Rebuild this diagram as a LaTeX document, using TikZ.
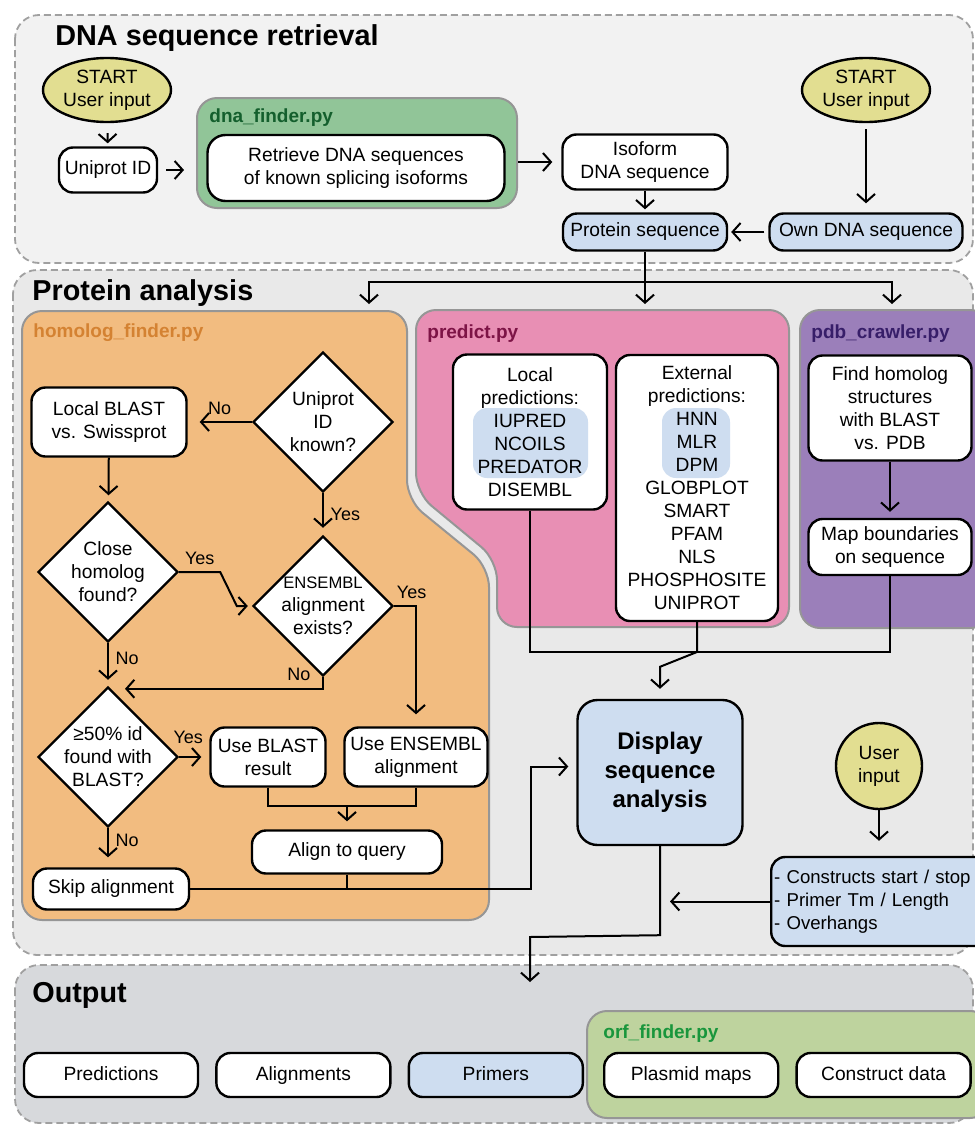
\documentclass[tikz,border=0pt]{standalone}
\usepackage{fontspec}
\setmainfont{Liberation Sans}
\usetikzlibrary{positioning,arrows.meta,calc,shapes.geometric}
\definecolor{SectionTop}{RGB}{242,242,242}
\definecolor{SectionMid}{RGB}{233,233,233}
\definecolor{SectionLow}{RGB}{215,217,220}
\definecolor{DashGray}{RGB}{160,160,160}
\definecolor{ProgGray}{RGB}{150,150,150}
\definecolor{UserYellow}{RGB}{226,222,145}
\definecolor{SeqBlue}{RGB}{206,221,240}
\definecolor{FinderGreen}{RGB}{145,197,152}
\definecolor{FinderText}{RGB}{20,95,45}
\definecolor{HomologOrange}{RGB}{242,188,128}
\definecolor{HomologText}{RGB}{212,130,50}
\definecolor{PredictPink}{RGB}{232,143,180}
\definecolor{PredictText}{RGB}{125,20,70}
\definecolor{CrawlerPurple}{RGB}{155,127,186}
\definecolor{CrawlerText}{RGB}{55,30,105}
\definecolor{OrfGreen}{RGB}{190,211,158}
\definecolor{OrfText}{RGB}{25,150,60}

\begin{document}
\begin{tikzpicture}[x=0.5pt, y=-0.5pt, node distance=8pt,
  every node/.style={font=\fontsize{9.6}{11.5}\selectfont, align=center},
  box/.style={draw, line width=1.2pt, rounded corners=7pt, fill=white, inner sep=1pt},
  outbox/.style={box, minimum width=87pt, minimum height=22pt, text height=7pt, text depth=2pt},
  decision/.style={draw, line width=1.2pt, diamond, fill=white, minimum width=70pt, minimum height=70pt, inner sep=-4pt},
  startnode/.style={draw, line width=1.2pt, ellipse, fill=UserYellow, minimum width=64pt, minimum height=32pt, inner sep=0pt},
  section/.style={draw=DashGray, line width=0.9pt, dash pattern=on 3.5pt off 2pt, rounded corners=12pt},
  program/.style={draw=ProgGray, line width=1pt, rounded corners=10pt},
  sectitle/.style={anchor=base west, inner xsep=0pt, font=\fontsize{14.4}{16}\selectfont\bfseries},
  progname/.style={anchor=base west, inner xsep=0pt, font=\fontsize{9.5}{11}\selectfont\bfseries},
  answer/.style={font=\fontsize{9}{10}\selectfont},
  arr/.style={-{Straight Barb[length=4pt,width=9pt]}, line width=1pt, shorten >=1.5pt},
  link/.style={line width=1pt}]
  \useasboundingbox (0,0) rectangle (975,1125);

  \draw[section, fill=SectionTop] (15,15) rectangle (973,263);
  \node[sectitle] at (55,45) {DNA sequence retrieval};
  \node[startnode] (startl) at (107,90) {START\\User input};
  \node[box, minimum width=49pt, minimum height=22.5pt] (uniprot) at (108,170) {Uniprot ID};
  \node[program, fill=FinderGreen, minimum width=160pt, minimum height=55pt] (dnafinder) at (357,153) {};
  \node[progname, text=FinderText] at (209,122) {dna\_finder.py};
  \node[box, rounded corners=9pt, minimum width=148.5pt, minimum height=33pt] (retrieve) at (356,168)
    {Retrieve DNA sequences\\of known splicing isoforms};
  \node[box, minimum width=82.5pt, minimum height=27.5pt] (isoform) at (645,162) {Isoform\\DNA sequence};
  \node[box, fill=SeqBlue, minimum width=82pt, minimum height=18.5pt] (protseq) at (645,232) {Protein sequence};
  \node[box, fill=SeqBlue, minimum width=96.5pt, minimum height=18.5pt] (owndna) at (866,232) {Own DNA sequence};
  \node[startnode] (startr) at (866,90) {START\\User input};
  \draw[arr, shorten <=5pt] (startl) -- (uniprot);
  \draw[arr, shorten <=4pt, shorten >=6pt] (uniprot.east) -- (uniprot.east -| dnafinder.west);
  \draw[arr, shorten >=4.5pt] (dnafinder.east |- isoform) -- (isoform);
  \draw[arr] (isoform) -- (protseq);
  \draw[arr, shorten <=2pt] (owndna) -- (protseq);
  \draw[arr, shorten <=3pt, shorten >=4.5pt] (startr) -- (owndna);

  \draw[section, fill=SectionMid] (13,270) rectangle (973,955);
  \node[sectitle] at (32,300) {Protein analysis};
  \draw[program, fill=HomologOrange] (22,311) -- (407,311) -- (407,500) -- (489,567) -- (489,920) -- (22,920) -- cycle;
  \draw[program, fill=PredictPink] (416,310) -- (789,310) -- (789,627) -- (497,627) -- (497,560) -- (416,493) -- cycle;
  \draw[program, fill=CrawlerPurple] (800,310) rectangle (990,628);
  \node[progname, text=HomologText] at (33,337) {homolog\_finder.py};
  \node[progname, text=PredictText] at (427,338) {predict.py};
  \node[progname, text=CrawlerText] at (811,338) {pdb\_crawler.py};
  \coordinate (split) at (645,282);
  \coordinate (hfin) at (369,307);
  \coordinate (prin) at (645,307);
  \coordinate (pcin) at (892,307);
  \draw[arr] (protseq) -- (split) -| (hfin);
  \draw[arr] (split) -- (prin);
  \draw[arr] (split) -| (pcin);

  \node[decision] (uniq) at (323,422) {Uniprot\\ID\\known?};
  \node[box, minimum width=77.5pt, minimum height=34.5pt] (blastsp) at (109,422) {Local BLAST\\vs. Swissprot};
  \node[decision] (close) at (108,572) {Close\\homolog\\found?};
  \node[decision] (ensembl) at (323,606) {{\fontsize{8.3}{11.5}\selectfont ENSEMBL}\\alignment\\exists?};
  \node[decision] (pct) at (108,757) {≥50\% id\\found with\\BLAST?};
  \node[box, minimum width=57.5pt, minimum height=29.5pt] (useblast) at (268,757) {Use BLAST\\result};
  \node[box, minimum width=71.5pt, minimum height=29.5pt] (useens) at (416,757) {Use ENSEMBL\\alignment};
  \node[box, minimum width=95pt, minimum height=21.5pt] (align) at (347,852) {Align to query};
  \node[box, minimum width=78pt, minimum height=20.5pt] (skip) at (111,889) {Skip alignment};
  \coordinate (merge) at (347,805.5);
  \draw[arr, shorten >=6pt] (uniq) -- node[answer, above] {No} (blastsp);
  \draw[arr, shorten >=3pt] (blastsp) -- (close);
  \draw[arr, shorten >=3.5pt] (uniq) -- node[answer, right] {Yes} (ensembl);
  \draw[arr, shorten >=2pt] (close.east) -- node[answer, above] {Yes} ++(41,0) -- ($(ensembl.west)+(-15,0)$) -- (ensembl.west);
  \draw[arr, shorten >=3pt] (close) -- node[answer, right, pos=0.35] {No} (pct);
  \draw[arr] (ensembl.south) |- node[answer, above, pos=0.56] {No} ($(pct.north)+(14,3)$);
  \draw[arr, shorten >=6pt] (ensembl.east) -| node[answer, above, pos=0.4] {Yes} (useens.north);
  \draw[arr, shorten >=4pt] (pct) -- node[answer, above, xshift=-3pt, yshift=3pt] {Yes} (useblast);
  \draw[arr, shorten >=5pt] (pct.south) -- node[answer, right, pos=0.3] {No} (pct.south |- skip.north);
  \draw[link] (useblast.south) |- (merge) -| (useens.south);
  \draw[arr, shorten >=4pt] (merge) -- (align);
  \draw[link] (align) -- (align.south |- skip.east);

  \node[box, minimum width=77pt, minimum height=77.5pt,
    path picture={\fill[SeqBlue, rounded corners=7pt] ($(path picture bounding box.center)+(-57,-24)$) rectangle ($(path picture bounding box.center)+(58,46)$);}]
    (localpred) at (530,432) {Local\\predictions:\\IUPRED\\NCOILS\\PREDATOR\\DISEMBL};
  \node[box, minimum width=81pt, minimum height=133pt,
    path picture={\fill[SeqBlue, rounded corners=7pt] ($(path picture bounding box.center)+(-35,-80)$) rectangle ($(path picture bounding box.center)+(33,-10)$);}]
    (extpred) at (697,488) {External\\predictions:\\HNN\\MLR\\DPM\\GLOBPLOT\\SMART\\PFAM\\NLS\\PHOSPHOSITE\\UNIPROT};
  \node[box, minimum width=81.5pt, minimum height=52.5pt] (findhom) at (890,408) {Find homolog\\structures\\with BLAST\\vs. PDB};
  \node[box, minimum width=81.5pt, minimum height=28pt] (mapbound) at (890,547) {Map boundaries\\on sequence};
  \draw[arr, shorten >=3pt] (findhom) -- (mapbound);

  \node[box, fill=SeqBlue, rounded corners=10pt, minimum width=82.5pt, minimum height=72.5pt,
    font=\fontsize{12}{14.5}\selectfont\bfseries] (disp) at (660,772.5) {Display\\sequence\\analysis};
  \node[draw, line width=1.2pt, circle, fill=UserYellow, minimum size=43pt, inner sep=0pt] (userin) at (879,766) {User\\input};
  \node[box, fill=SeqBlue, anchor=west, text width=106pt, align=left, minimum height=44.5pt, inner xsep=1.5pt,
    font=\fontsize{9.3}{11.5}\selectfont] (constr) at (770,901.5)
    {- Constructs start / stop\\- Primer Tm / Length\\- Overhangs};
  \coordinate (predjoin) at (697,652);
  \draw[link] (localpred.south) |- (predjoin) -| (mapbound.south);
  \draw[arr, shorten >=5pt] (extpred.south) -- (predjoin) -- ($(disp.north)+(0,-32)$) -- (disp.north);
  \draw[arr, shorten >=4pt] (skip.east) -- (531,889) |- ([yshift=3pt]disp.west);
  \draw[arr, shorten >=7.5pt] (userin) -- (userin |- constr.north);
  \draw[arr, shorten >=5pt] (constr) -- (constr -| disp.south);

  \draw[section, fill=SectionLow] (15,965) rectangle (973,1123);
  \node[sectitle] at (32,1002) {Output};
  \draw[program, fill=OrfGreen] (587,1011) rectangle (990,1118);
  \node[progname, text=OrfText] at (603,1038) {orf\_finder.py};
  \node[outbox] (predout) at (111,1075) {Predictions};
  \node[outbox, right=of predout] (alignout) {Alignments};
  \node[outbox, fill=SeqBlue, right=of alignout] (primers) {Primers};
  \node[outbox, right=9.5pt of primers] (plasmid) {Plasmid maps};
  \node[outbox, right=of plasmid] (constrdata) {Construct data};
  \coordinate (outin) at (530,985);
  \draw[arr] (disp.south) -- ++(0,89) -- (530,937) -- (outin);
\end{tikzpicture}
\end{document}
